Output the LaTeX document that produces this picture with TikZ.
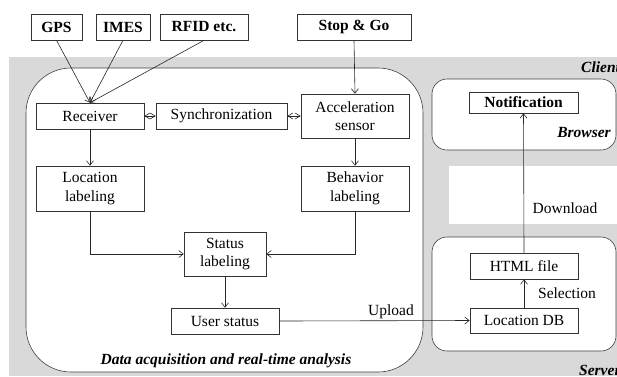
\documentclass[tikz,border=0pt]{standalone}
\usepackage{fontspec}
\setmainfont{Liberation Serif}
\usetikzlibrary{arrows.meta}
\begin{document}
\begin{tikzpicture}[x=1pt,y=-1pt,
  font=\fontsize{15.5}{18.5}\selectfont,
  box/.style={draw=black!80, line width=0.6pt, fill=white, rectangle, inner sep=0pt, align=center},
  bbox/.style={box, font=\fontsize{15.5}{18.5}\selectfont\bfseries},
  conn/.style={draw=black!85, line width=0.6pt, -{Straight Barb[length=4.5pt,width=7pt]}},
  sync/.style={draw=black!85, line width=0.6pt, {Straight Barb[length=5pt,width=6pt]}-{Straight Barb[length=5pt,width=6pt]}},
  region/.style={draw=black!75, line width=0.6pt, fill=white},
  lbl/.style={inner sep=0pt, font=\fontsize{15.5}{18.5}\selectfont},
  title/.style={inner sep=0pt, font=\fontsize{15.5}{18.5}\selectfont\bfseries\itshape}]
\useasboundingbox (0,0) rectangle (617,376);
% background regions
\fill[black!15] (9,57) rectangle (617,376);
\fill[white] (449,166) rectangle (617,224);
\draw[region, rounded corners=45pt] (26,68) rectangle (423,372);
\draw[region, rounded corners=15pt] (432,79) rectangle (616,150);
\draw[region, rounded corners=15pt] (432,237) rectangle (616,351);
% region titles
\node[title, anchor=base west] (client) at (581,72) {Client};
\node[title, anchor=base west] (server) at (579,375) {Server};
\node[title] (browser) at (584,132) {Browser};
\node[title] (daq) at (226,361) {Data acquisition and real-time analysis};
% sources
\node[bbox, minimum width=51pt, minimum height=26pt] (gps) at (56.5,27) {GPS};
\node[bbox, minimum width=54pt, minimum height=26pt] (imes) at (123,27) {IMES};
\node[bbox, minimum width=88pt, minimum height=26pt] (rfid) at (204,27) {RFID etc.};
\node[bbox, minimum width=114pt, minimum height=26pt] (stop) at (354,27) {Stop \& Go};
% client processing
\node[box, minimum width=108pt, minimum height=26pt] (recv) at (90,116) {Receiver};
\node[box, minimum width=131pt, minimum height=26pt] (sync) at (221.5,116) {Synchronization};
\node[box, minimum width=108pt, minimum height=44pt] (acc) at (355,116) {Acceleration\\sensor};
\node[box, minimum width=108pt, minimum height=45pt] (loc) at (90,188.5) {Location\\labeling};
\node[box, minimum width=108pt, minimum height=45pt] (beh) at (355,188.5) {Behavior\\labeling};
\node[box, minimum width=82pt, minimum height=44pt] (stat) at (225,254) {Status\\labeling};
\node[box, minimum width=108pt, minimum height=26pt] (user) at (225,321) {User status};
% browser / server
\node[bbox, minimum width=109pt, minimum height=21pt] (notif) at (523.5,102.5) {Notification};
\node[box, minimum width=108pt, minimum height=26pt] (html) at (524,266) {HTML file};
\node[box, minimum width=108pt, minimum height=25pt] (db) at (524,320.5) {Location DB};
% connectors
\draw[conn] (gps.south) -- (recv.north);
\draw[conn] (imes.south) -- (recv.north);
\draw[conn] (rfid.south) -- (recv.north);
\draw[conn] (stop.south) -- (acc.north);
\draw[sync] (recv.east) -- (sync.west);
\draw[sync] (sync.east) -- (sync.east -| acc.west);
\draw[conn] (recv.south) -- (loc.north);
\draw[conn] (acc.south) -- (beh.north);
\draw[conn] (loc.south) |- (stat.west);
\draw[conn] (beh.south) |- (stat.east);
\draw[conn] (stat.south) -- (user.north);
\draw[conn] (user.east) -- (db.west);
\draw[conn] (db.north) -- (html.south);
\draw[conn] (html.north) -- (notif.south);
% connector labels
\node[lbl] (upload) at (391,312) {Upload};
\node[lbl] (select) at (567,293) {Selection};
\node[lbl] (download) at (565,208) {Download};
\end{tikzpicture}
\end{document}
